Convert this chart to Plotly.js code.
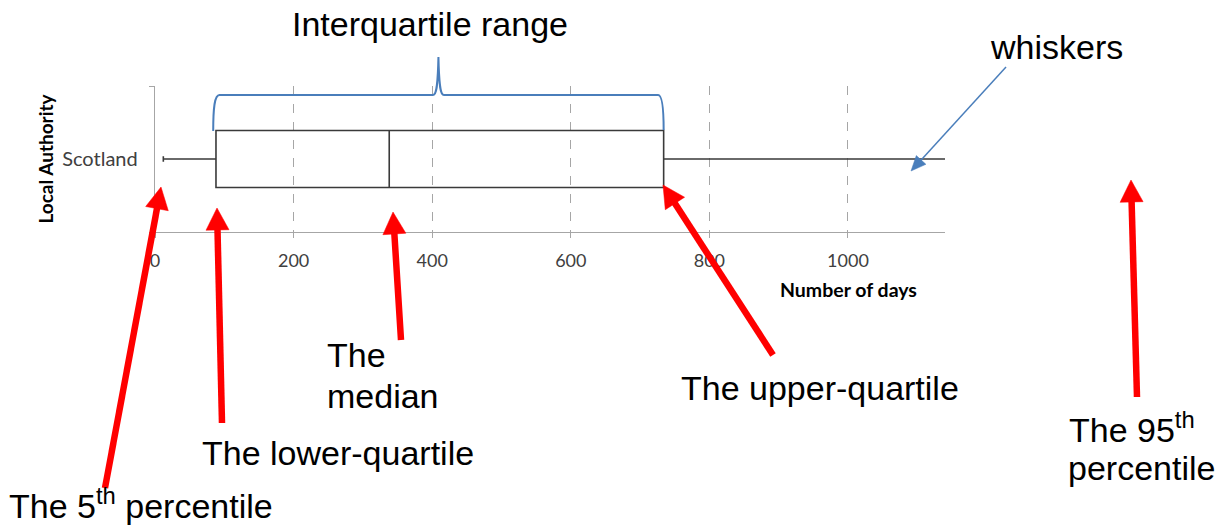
<!DOCTYPE html>
<html>
<head>
<meta charset="utf-8">
<script src="https://cdn.plot.ly/plotly-3.0.1.min.js"></script>
<style>html,body{margin:0;padding:0;background:#fff;}</style>
</head>
<body>
<div id="chart" style="width:1225px;height:525px;"></div>
<script>
// ---- data ----
var categories = ['Scotland'];
var lowerFence = [12];     // 5th percentile
var lowerQuartile = [88];
var medianVals = [338];
var upperQuartile = [734];
var upperFence = [1160];   // 95th percentile (beyond the visible axis)
var xTickVals = [0, 200, 400, 600, 800, 1000];
var xTickText = ['0', '200', '400', '600', '800', '1000'];

// ---- layout helpers (pixel -> paper) ----
var M = {l: 155, r: 280, t: 86, b: 293};
var W = 1225, H = 525;
var PW = W - M.l - M.r, PH = H - M.t - M.b;
function PX(px) { return (px - M.l) / PW; }
function PY(py) { return (H - M.b - py) / PH; }

var trace = {
  type: 'box',
  orientation: 'h',
  y: categories,
  lowerfence: lowerFence,
  q1: lowerQuartile,
  median: medianVals,
  q3: upperQuartile,
  upperfence: upperFence,
  boxpoints: false,
  width: 0.39,
  whiskerwidth: 0.1,
  fillcolor: 'rgba(255,255,255,0)',
  line: {color: '#3a3a3a', width: 1.6},
  hoverinfo: 'skip'
};

// brace over the interquartile range
var bx0 = lowerQuartile[0] - 4, bx1 = upperQuartile[0];
var bmid = (bx0 + bx1) / 2;
var yb0 = PY(131), yb = PY(95), ypk = PY(57);
var bracePath = 'M' + bx0 + ',' + yb0 +
  ' C' + bx0 + ',' + (yb0 + 0.16) + ' ' + (bx0 + 2) + ',' + yb + ' ' + (bx0 + 9) + ',' + yb +
  ' L' + (bmid - 8) + ',' + yb +
  ' C' + (bmid - 3) + ',' + yb + ' ' + (bmid - 1) + ',' + (yb + 0.05) + ' ' + bmid + ',' + ypk +
  ' C' + (bmid + 1) + ',' + (yb + 0.05) + ' ' + (bmid + 3) + ',' + yb + ' ' + (bmid + 8) + ',' + yb +
  ' L' + (bx1 - 8) + ',' + yb +
  ' C' + (bx1 - 2) + ',' + yb + ' ' + bx1 + ',' + (yb - 0.1) + ' ' + bx1 + ',' + PY(130);

var TF = {family: 'Liberation Sans, Arial, sans-serif', size: 34, color: '#000000'};
function label(text, left, baseline, anchor) {
  return {xref: 'paper', yref: 'paper', x: PX(left), y: PY(baseline + 7),
    xanchor: anchor || 'left', yanchor: 'bottom', text: text, showarrow: false,
    font: TF, borderpad: 0, borderwidth: 0};
}

// arrows drawn as shapes (shaft line + triangular head), pixel geometry -> paper
function arrowShapes(tipX, tipY, tailX, tailY, color, width, headLen, headHalf) {
  var dx = tipX - tailX, dy = tipY - tailY;
  var len = Math.sqrt(dx * dx + dy * dy);
  var ux = dx / len, uy = dy / len, nx = -uy, ny = ux;
  var bxp = tipX - ux * headLen, byp = tipY - uy * headLen;
  var sx = bxp + ux * 2, sy = byp + uy * 2;
  var p1x = bxp + nx * headHalf, p1y = byp + ny * headHalf;
  var p2x = bxp - nx * headHalf, p2y = byp - ny * headHalf;
  return [
    {type: 'line', xref: 'paper', yref: 'paper', x0: PX(tailX), y0: PY(tailY), x1: PX(sx), y1: PY(sy),
     line: {color: color, width: width}, layer: 'above'},
    {type: 'path', xref: 'paper', yref: 'paper',
     path: 'M' + PX(tipX) + ',' + PY(tipY) + ' L' + PX(p1x) + ',' + PY(p1y) + ' L' + PX(p2x) + ',' + PY(p2y) + ' Z',
     fillcolor: color, line: {color: color, width: 0.5}, layer: 'above'}
  ];
}

var RED = '#ff0000', BLUE = '#4a7ebb';
var annotations = [
  label('Interquartile range', 430, 36, 'center'),
  label('whiskers', 990, 59),
  label('The 5<sup>th</sup> percentile', 9, 518),
  label('The lower-quartile', 202, 465),
  label('The', 327, 367),
  label('median', 327, 408),
  label('The upper-quartile', 681, 400),
  label('The 95<sup>th</sup>', 1069, 442),
  label('percentile', 1068, 480),
  {xref: 'paper', yref: 'paper', x: PX(848), y: PY(289), xanchor: 'center', yanchor: 'middle',
   text: 'Number of days', showarrow: false,
   font: {family: 'Lato, sans-serif', size: 19.5, color: '#000000', weight: 'bold'}}
];

var shapes = [{
  type: 'path', xref: 'x', yref: 'paper', path: bracePath,
  line: {color: BLUE, width: 2}, fillcolor: 'rgba(0,0,0,0)', layer: 'above'
}];
shapes = shapes
  .concat(arrowShapes(161, 187, 105, 488, RED, 6.5, 22, 11.5))
  .concat(arrowShapes(217, 208, 222, 423, RED, 6.5, 22, 11.5))
  .concat(arrowShapes(393, 212, 401, 340, RED, 6.5, 22, 11.5))
  .concat(arrowShapes(663, 185, 773, 355, RED, 6.5, 22, 11.5))
  .concat(arrowShapes(1131, 180, 1137, 397, RED, 6.5, 22, 11.5))
  .concat(arrowShapes(911, 171, 1006, 67, BLUE, 1.5, 15, 6.5));

var layout = {
  width: W, height: H, autosize: false,
  margin: M,
  paper_bgcolor: '#ffffff', plot_bgcolor: '#ffffff',
  showlegend: false,
  font: {family: 'Lato, sans-serif', color: '#404040'},
  xaxis: {
    range: [0, 1140], tickvals: xTickVals, ticktext: xTickText,
    showgrid: true, gridcolor: '#a6a6a6', griddash: 'dash', gridwidth: 1,
    zeroline: false, showline: true, linecolor: '#a6a6a6', linewidth: 1.3,
    ticks: 'outside', ticklen: 5, tickcolor: '#a6a6a6', tickwidth: 1,
    tickfont: {family: 'Lato, sans-serif', size: 18, color: '#404040'},
    ticklabelstandoff: 7, fixedrange: true
  },
  yaxis: {
    type: 'category', range: [-0.5, 0.5],
    showgrid: false, zeroline: false, showline: true, linecolor: '#a6a6a6', linewidth: 1.3,
    ticks: 'outside', tickson: 'boundaries', ticklen: 5, tickcolor: '#a6a6a6',
    tickfont: {family: 'Lato, sans-serif', size: 20, color: '#404040'},
    ticklabelstandoff: 12,
    title: {text: 'Local Authority', standoff: 3,
      font: {family: 'Lato, sans-serif', size: 19, color: '#000000', weight: 'bold'}},
    automargin: false, fixedrange: true
  },
  shapes: shapes,
  annotations: annotations
};

Plotly.newPlot('chart', [trace], layout, {displayModeBar: false, staticPlot: true}).then(function (gd) {
  // remove empty placeholder text nodes left by the library
  var texts = gd.querySelectorAll('text');
  for (var i = 0; i < texts.length; i++) {
    if (!texts[i].textContent || !texts[i].textContent.trim()) {
      texts[i].parentNode.removeChild(texts[i]);
    }
  }
});
</script>
</body>
</html>
